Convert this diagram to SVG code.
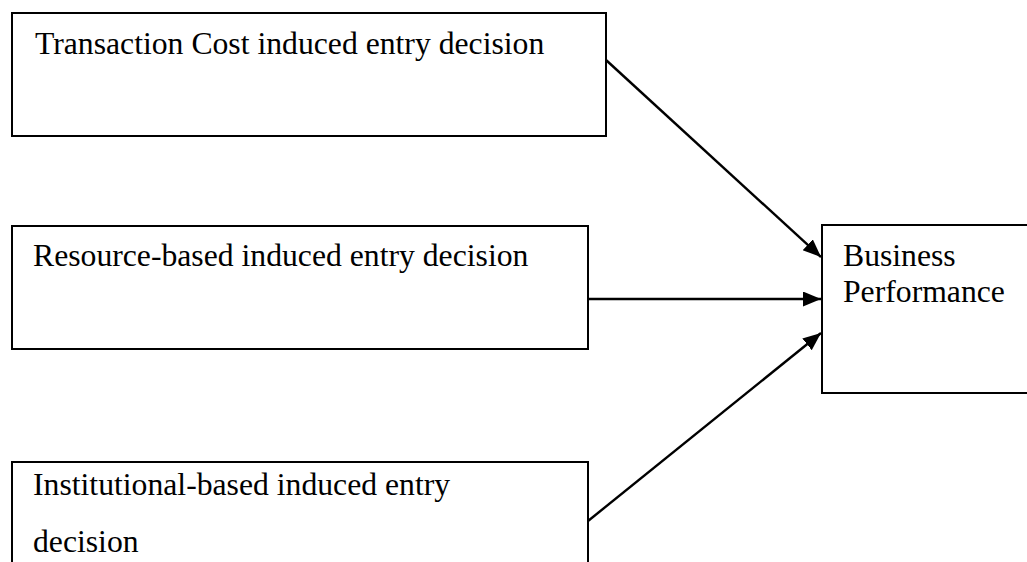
<svg xmlns="http://www.w3.org/2000/svg" width="1027" height="562" viewBox="0 0 1027 562">
<style>
.box{fill:#fff;stroke:#000;stroke-width:2}
.lbl{font-family:"Liberation Serif","Times New Roman",serif;font-size:31.7px;fill:#000}
.conn{stroke:#000;stroke-width:2.4;fill:none}
</style>
<defs>
<marker id="ah" markerUnits="userSpaceOnUse" markerWidth="20" markerHeight="16" refX="18" refY="7.5" orient="auto">
<path d="M0,0 L18,7.5 L0,15 z" fill="#000"/>
</marker>
</defs>
<rect width="1027" height="562" fill="#fff"/>
<g id="node-transaction">
<rect class="box" x="12" y="13" width="594" height="123"/>
<text class="lbl" x="35" y="54">Transaction Cost induced entry decision</text>
</g>
<g id="node-resource">
<rect class="box" x="12" y="226" width="576" height="123"/>
<text class="lbl" x="33" y="266">Resource-based induced entry decision</text>
</g>
<g id="node-institutional">
<rect class="box" x="12" y="462" width="576" height="130"/>
<text class="lbl" x="33" y="495">Institutional-based induced entry</text>
<text class="lbl" x="33" y="552">decision</text>
</g>
<g id="node-business">
<rect class="box" x="822" y="225" width="220" height="168"/>
<text class="lbl" x="843" y="266">Business</text>
<text class="lbl" x="843" y="302">Performance</text>
</g>
<g id="connectors">
<line class="conn" x1="606" y1="60" x2="821" y2="257" marker-end="url(#ah)"/>
<line class="conn" x1="588" y1="299" x2="821" y2="299" marker-end="url(#ah)"/>
<line class="conn" x1="588" y1="521" x2="821" y2="333" marker-end="url(#ah)"/>
</g>
</svg>
